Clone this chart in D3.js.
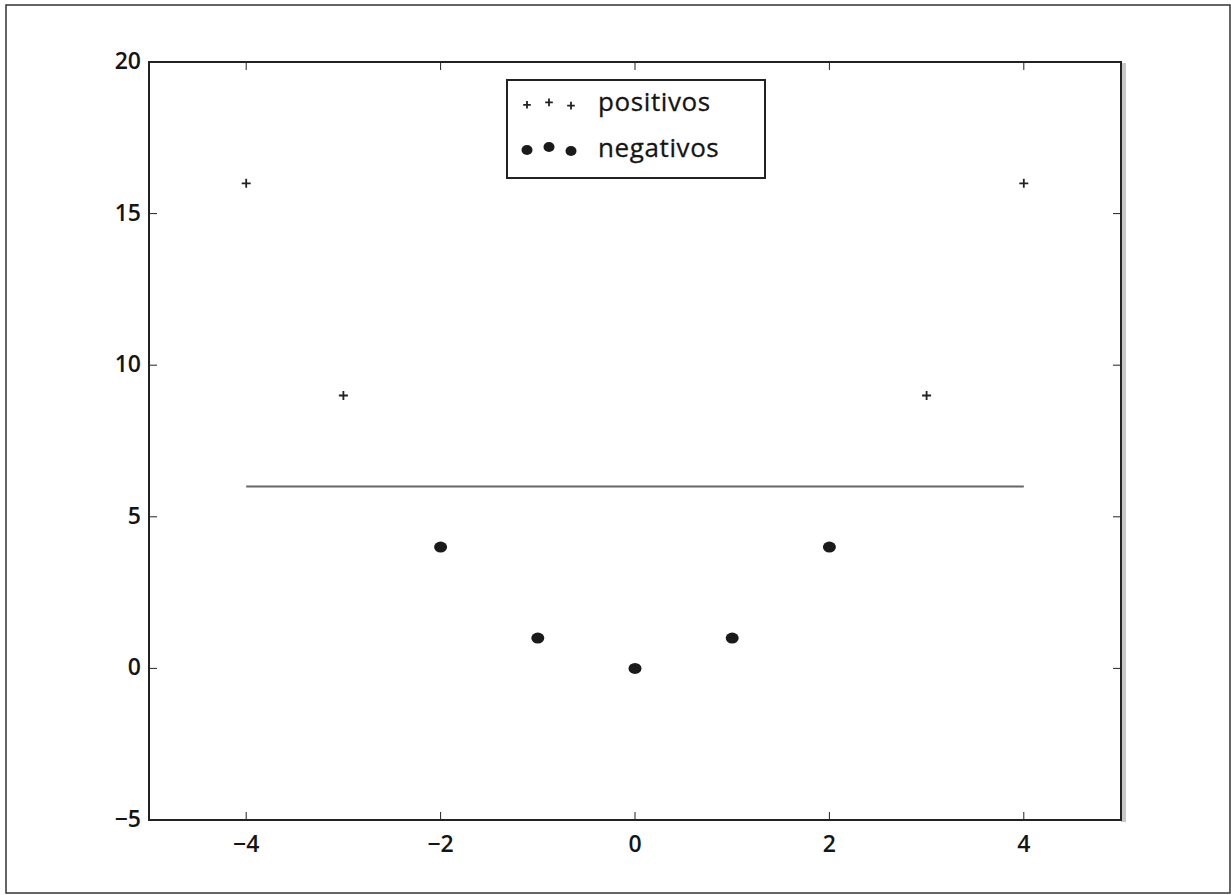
<!DOCTYPE html>
<html><head><meta charset="utf-8">
<script src="https://cdn.jsdelivr.net/npm/d3@7"></script>
<style>body{margin:0;background:#fff}svg text{font-family:"Open Sans",sans-serif;fill:#151515}</style>
</head><body>
<svg id="c" width="1231" height="895"></svg>
<script>
const posX = [-4, -3, 3, 4];
const posY = [16, 9, 9, 16];
const negX = [-2, -1, 0, 1, 2];
const negY = [4, 1, 0, 1, 4];
const lineX = [-4, 4];
const lineY = [6, 6];
const xTicks = [-4, -2, 0, 2, 4];
const yTicks = [-5, 0, 5, 10, 15, 20];
const legendLabels = ["positivos", "negativos"];

const svg = d3.select("#c");
const m = {l:149, r:1121, t:62, b:820};
const x = d3.scaleLinear().domain([-5,5]).range([m.l, m.r]);
const y = d3.scaleLinear().domain([-5,20]).range([m.b, m.t]);
const fmt = v => v < 0 ? "\u2212" + Math.abs(v) : String(v);

svg.append("rect").attr("x",6).attr("y",5).attr("width",1224).attr("height",888)
  .attr("fill","none").attr("stroke","#333").attr("stroke-width",1.5);

svg.append("rect").attr("x",m.r).attr("y",m.t+1).attr("width",5).attr("height",m.b-m.t+1).attr("fill","#c8c8c8");

const g = svg.append("g");
xTicks.forEach(v => {
  g.append("line").attr("x1",x(v)).attr("x2",x(v)).attr("y1",m.b).attr("y2",m.b-8).attr("stroke","#222");
  g.append("line").attr("x1",x(v)).attr("x2",x(v)).attr("y1",m.t).attr("y2",m.t+8).attr("stroke","#222");
  g.append("text").attr("x",x(v)).attr("y",m.b+32).attr("text-anchor","middle").attr("font-size",23)
    .style("font-weight",600).text(fmt(v));
});
yTicks.forEach(v => {
  g.append("line").attr("y1",y(v)).attr("y2",y(v)).attr("x1",m.l).attr("x2",m.l+8).attr("stroke","#222");
  g.append("line").attr("y1",y(v)).attr("y2",y(v)).attr("x1",m.r).attr("x2",m.r-8).attr("stroke","#222");
  g.append("text").attr("x",m.l-8).attr("y",y(v)+7).attr("text-anchor","end").attr("font-size",23)
    .style("font-weight",600).text(fmt(v));
});

svg.append("rect").attr("x",m.l).attr("y",m.t).attr("width",m.r-m.l).attr("height",m.b-m.t)
  .attr("fill","none").attr("stroke","#222").attr("stroke-width",2);

svg.append("path").datum(lineX.map((d,i)=>[d,lineY[i]]))
  .attr("d", d3.line().x(d=>x(d[0])).y(d=>y(d[1])))
  .attr("stroke","#666").attr("stroke-width",2).attr("fill","none");

function drawPlus(cx, cy, s) {
  svg.append("path").attr("d",`M${cx-s},${cy}H${cx+s}M${cx},${cy-s}V${cy+s}`)
    .attr("stroke","#222").attr("stroke-width",1.8);
}
posX.forEach((d,i) => drawPlus(x(d), y(posY[i]), 4.5));

negX.forEach((d,i) => {
  svg.append("ellipse").attr("cx",x(d)).attr("cy",y(negY[i])).attr("rx",6.5).attr("ry",5.5).attr("fill","#1a1a1a");
});

const lg = svg.append("g");
lg.append("rect").attr("x",507).attr("y",80).attr("width",258).attr("height",98)
  .attr("fill","#fff").attr("stroke","#222").attr("stroke-width",2);
const mxs = [527, 549, 571];
const offs = [1, -2, 2];
mxs.forEach((mx,i) => drawPlus(mx, 104 + offs[i]*0.8, 3.8));
mxs.forEach((mx,i) => {
  svg.append("ellipse").attr("cx",mx).attr("cy",149 + offs[i]).attr("rx",5.5).attr("ry",5).attr("fill","#1a1a1a");
});
legendLabels.forEach((t,i) => {
  svg.append("text").attr("x",598).attr("y",111 + i*46).attr("font-size",26)
    .style("font-weight",400).attr("letter-spacing",0.6).attr("stroke","#151515").attr("stroke-width",0.3).text(t);
});
</script>
</body></html>
